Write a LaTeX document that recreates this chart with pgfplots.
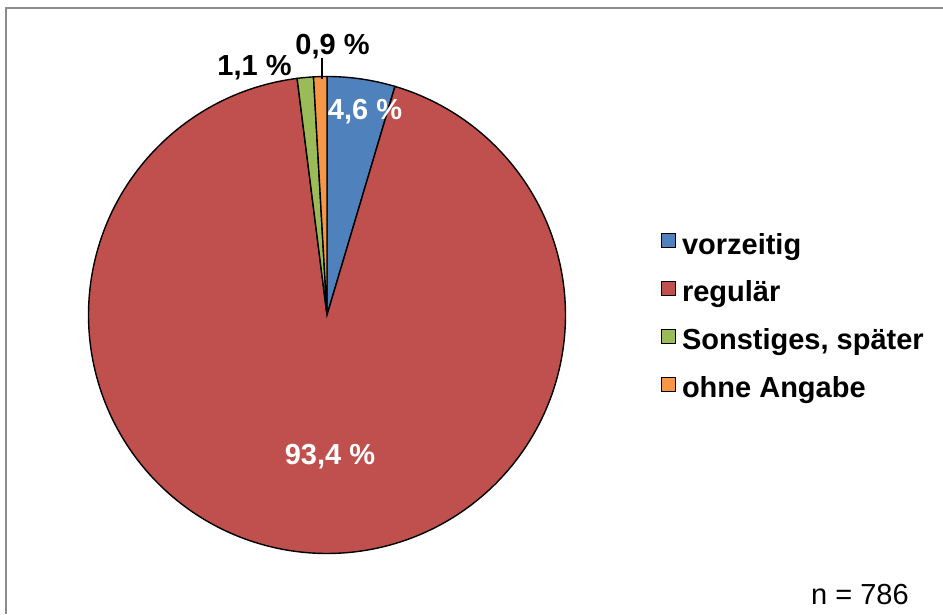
\documentclass[border=0pt]{standalone}
\usepackage{pgfplots}
\pgfplotsset{compat=1.18}
\usepackage{fontspec}
\setmainfont{Liberation Sans}
\definecolor{cblue}{HTML}{4F81BD}
\definecolor{cred}{HTML}{C0504D}
\definecolor{cgreen}{HTML}{9BBB59}
\definecolor{corange}{HTML}{F79646}
\definecolor{frame}{HTML}{8C8C8C}
\newcommand\lf{\fontsize{29pt}{34pt}\selectfont\bfseries}
\begin{document}
\begin{tikzpicture}
\path[use as bounding box] (0,0) rectangle (943pt,614pt);
% shares in percent
\def\pA{4.6}\def\pB{93.4}\def\pC{1.1}\def\pD{0.9}
\def\cx{327}\def\cy{299}\def\rr{238.5}
\pgfmathsetmacro{\aZ}{90}
\pgfmathsetmacro{\aA}{\aZ-3.6*\pA}
\pgfmathsetmacro{\aB}{\aA-3.6*\pB}
\pgfmathsetmacro{\aC}{\aB-3.6*\pC}
\pgfmathsetmacro{\aD}{\aC-3.6*\pD}
\begin{axis}[width=943pt,height=614pt,scale only axis,
  xmin=0,xmax=943,ymin=0,ymax=614,hide axis,clip=false,
  legend style={at={(axis cs:661,382)},anchor=north west,draw=none,fill=none,
    inner sep=0pt,outer sep=0pt,row sep=19pt,column sep=6pt,font=\lf,
    nodes={inner sep=0pt,text height=22pt,text depth=7pt}},
  legend cell align=left,
  every axis plot/.append style={draw=black,line width=1.4pt,variable=\t,
    legend image code/.code={\draw[##1,line width=1pt] (0pt,-1pt) rectangle (14pt,13pt);}}]
\addplot[fill=cblue,domain=\aA:\aZ,samples=30] ({\cx+\rr*cos(\t)},{\cy+\rr*sin(\t)}) -- (axis cs:\cx,\cy) -- cycle;
\addlegendentry{vorzeitig}
\addplot[fill=cred,domain=\aB:\aA,samples=300] ({\cx+\rr*cos(\t)},{\cy+\rr*sin(\t)}) -- (axis cs:\cx,\cy) -- cycle;
\addlegendentry{regulär}
\addplot[fill=cgreen,domain=\aC:\aB,samples=10] ({\cx+\rr*cos(\t)},{\cy+\rr*sin(\t)}) -- (axis cs:\cx,\cy) -- cycle;
\addlegendentry{Sonstiges, später}
\addplot[fill=corange,domain=\aD:\aC,samples=10] ({\cx+\rr*cos(\t)},{\cy+\rr*sin(\t)}) -- (axis cs:\cx,\cy) -- cycle;
\addlegendentry{ohne Angabe}
\draw[black,line width=1.4pt] (axis cs:322,556) -- (axis cs:322,535);
\node[font=\lf,white,anchor=base] at (axis cs:365,494) {4,6 \%};
\node[font=\lf,white,anchor=base] at (axis cs:330,150) {93,4 \%};
\node[font=\lf,black,anchor=base] at (axis cs:254.5,538) {1,1 \%};
\node[font=\lf,black,anchor=base] at (axis cs:332.5,559) {0,9 \%};
\node[font=\fontsize{29pt}{34pt}\selectfont,black,anchor=base west,inner sep=0pt] at (axis cs:811,9.5) {n = 786};
\draw[frame,line width=2pt] (axis cs:6,0) -- (axis cs:6,606) -- (axis cs:943,606);
\end{axis}
\end{tikzpicture}
\end{document}
